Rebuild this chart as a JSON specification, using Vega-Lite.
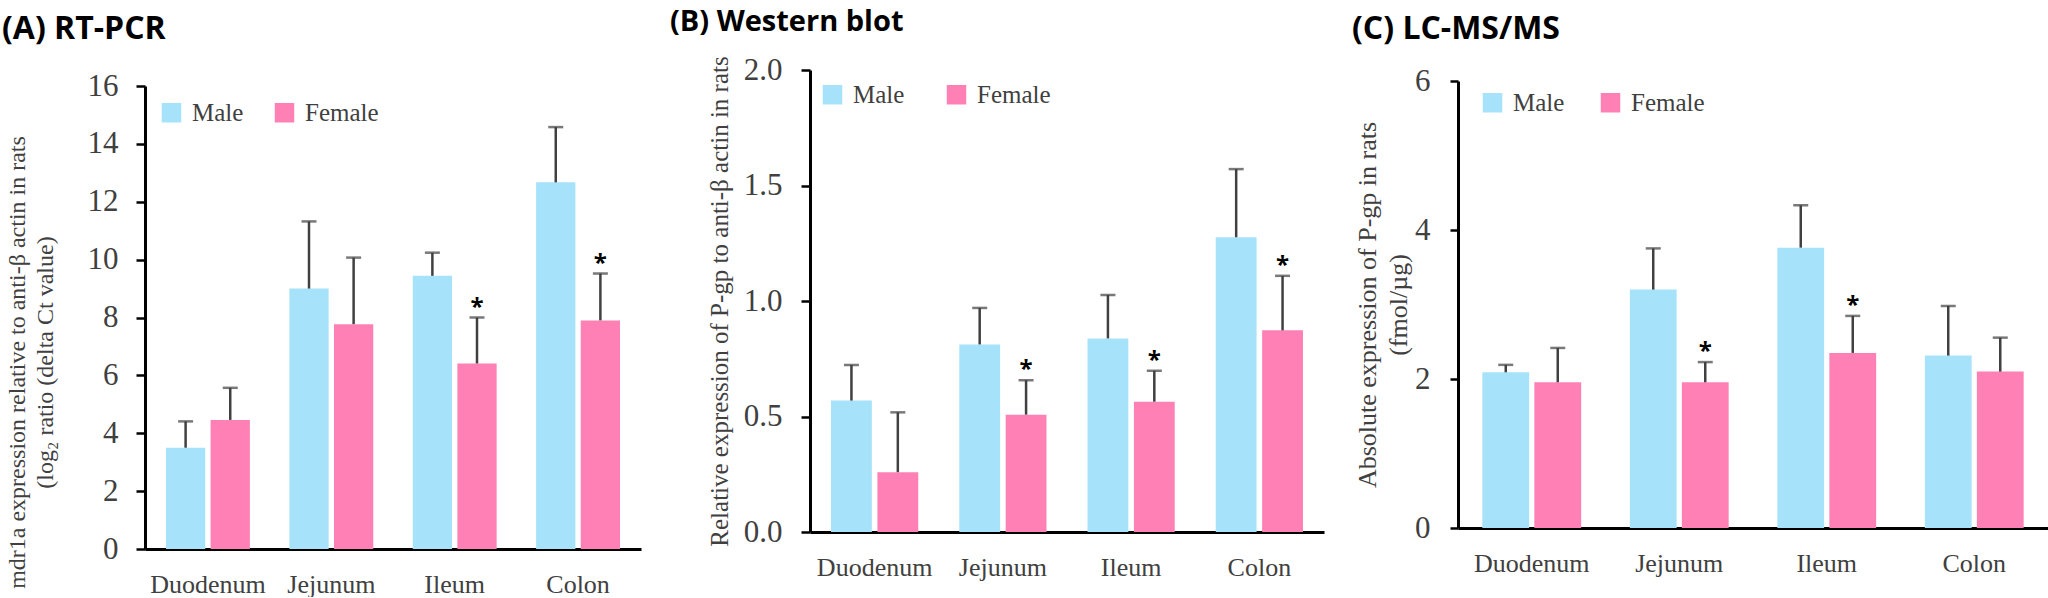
{
  "$schema": "https://vega.github.io/schema/vega-lite/v6.json",
  "background": "white",
  "padding": {"left": 2, "top": 8, "right": 0, "bottom": 0},
  "config": {"view": {"stroke": null}, "axis": {"grid": false}},
  "datasets": {
    "rtpcr": [
      {"organ": "Duodenum", "sex": "Male", "value": 3.5, "upper": 4.41, "sig": false},
      {"organ": "Duodenum", "sex": "Female", "value": 4.46, "upper": 5.57, "sig": false},
      {"organ": "Jejunum", "sex": "Male", "value": 9.0, "upper": 11.32, "sig": false},
      {"organ": "Jejunum", "sex": "Female", "value": 7.77, "upper": 10.07, "sig": false},
      {"organ": "Ileum", "sex": "Male", "value": 9.44, "upper": 10.24, "sig": false},
      {"organ": "Ileum", "sex": "Female", "value": 6.41, "upper": 8.0, "sig": true},
      {"organ": "Colon", "sex": "Male", "value": 12.67, "upper": 14.58, "sig": false},
      {"organ": "Colon", "sex": "Female", "value": 7.9, "upper": 9.52, "sig": true}
    ],
    "wb": [
      {"organ": "Duodenum", "sex": "Male", "value": 0.569, "upper": 0.723, "sig": false},
      {"organ": "Duodenum", "sex": "Female", "value": 0.259, "upper": 0.518, "sig": false},
      {"organ": "Jejunum", "sex": "Male", "value": 0.812, "upper": 0.97, "sig": false},
      {"organ": "Jejunum", "sex": "Female", "value": 0.508, "upper": 0.657, "sig": true},
      {"organ": "Ileum", "sex": "Male", "value": 0.838, "upper": 1.026, "sig": false},
      {"organ": "Ileum", "sex": "Female", "value": 0.564, "upper": 0.698, "sig": true},
      {"organ": "Colon", "sex": "Male", "value": 1.276, "upper": 1.571, "sig": false},
      {"organ": "Colon", "sex": "Female", "value": 0.873, "upper": 1.109, "sig": true}
    ],
    "lcms": [
      {"organ": "Duodenum", "sex": "Male", "value": 2.09, "upper": 2.19, "sig": false},
      {"organ": "Duodenum", "sex": "Female", "value": 1.956, "upper": 2.417, "sig": false},
      {"organ": "Jejunum", "sex": "Male", "value": 3.2, "upper": 3.753, "sig": false},
      {"organ": "Jejunum", "sex": "Female", "value": 1.956, "upper": 2.227, "sig": true},
      {"organ": "Ileum", "sex": "Male", "value": 3.763, "upper": 4.332, "sig": false},
      {"organ": "Ileum", "sex": "Female", "value": 2.35, "upper": 2.847, "sig": true},
      {"organ": "Colon", "sex": "Male", "value": 2.314, "upper": 2.98, "sig": false},
      {"organ": "Colon", "sex": "Female", "value": 2.099, "upper": 2.555, "sig": false}
    ]
  },
  "spacing": 169,
  "bounds": "flush",
  "resolve": {"scale": {"color": "independent", "x": "independent", "y": "independent", "xOffset": "independent"}, "legend": {"color": "independent"}},
  "hconcat": [
    {
      "data": {"name": "rtpcr"},
      "width": 496,
      "height": 479,
      "title": {"text": "(A) RT-PCR", "anchor": "start", "frame": "group", "dx": -143, "offset": -1, "baseline": "alphabetic", "font": "Open Sans", "fontSize": 32, "fontWeight": "bold", "color": "#000000"},
      "encoding": {
        "x": {"field": "organ", "type": "nominal", "sort": ["Duodenum", "Jejunum", "Ileum", "Colon"], "scale": {"paddingInner": 0.32, "paddingOuter": 0.17},
          "axis": {"title": null, "labelAngle": 0, "ticks": false, "tickSize": 0, "domainColor": "#000000", "domainWidth": 3, "labelFont": "Liberation Serif", "labelFontSize": 26, "labelColor": "#404040", "labelPadding": 22}},
        "xOffset": {"field": "sex", "type": "nominal", "sort": ["Male", "Female"], "scale": {"paddingInner": 0.12}}
      },
      "layer": [
        {"mark": {"type": "bar"},
          "encoding": {
            "y": {"field": "value", "type": "quantitative", "scale": {"domain": [0, 16], "range": [479, 16], "nice": false, "zero": true},
              "axis": {"title": ["mdr1a expression relative to anti-β actin in rats", "(log₂ ratio (delta Ct value)"], "values": [0, 2, 4, 6, 8, 10, 12, 14, 16], "format": "d", "domainColor": "#000000", "domainWidth": 3, "tickColor": "#000000", "tickWidth": 2.5, "tickSize": 9, "labelPadding": 18, "labelFont": "Liberation Serif", "labelFontSize": 31, "labelColor": "#404040", "titleFont": "Liberation Serif", "titleFontSize": 24, "titleFontWeight": "normal", "titleColor": "#404040", "titlePadding": 30, "titleLineHeight": 28, "titleY": 292}},
            "color": {"field": "sex", "type": "nominal", "scale": {"domain": ["Male", "Female"], "range": ["#A6E3FA", "#FF80B4"]},
              "legend": {"title": null, "orient": "none", "legendX": 14, "legendY": 30, "direction": "horizontal", "symbolType": "square", "symbolSize": 380, "symbolStrokeWidth": 0, "labelFont": "Liberation Serif", "labelFontSize": 25, "labelColor": "#404040", "labelOffset": 8, "columnPadding": 28, "padding": 0}}
          }},
        {"mark": {"type": "rule", "color": "#404040", "strokeWidth": 2.5},
          "encoding": {"y": {"field": "value", "type": "quantitative"}, "y2": {"field": "upper"}}},
        {"mark": {"type": "tick", "color": "#404040", "thickness": 2.5, "size": 15},
          "encoding": {"y": {"field": "upper", "type": "quantitative"}}},
        {"transform": [{"filter": "datum.sig"}],
          "mark": {"type": "text", "font": "Open Sans", "fontWeight": "bold", "fontSize": 24, "color": "#000000", "baseline": "alphabetic", "dy": -3},
          "encoding": {"y": {"field": "upper", "type": "quantitative"}, "text": {"value": "*"}}}
      ]
    },
    {
      "spacing": 134,
      "bounds": "flush",
      "resolve": {"scale": {"color": "independent", "x": "independent", "y": "independent", "xOffset": "independent"}, "legend": {"color": "independent"}},
      "hconcat": [
        {
          "data": {"name": "wb"},
          "width": 514,
          "height": 462,
          "title": {"text": "(B) Western blot", "anchor": "start", "frame": "group", "dx": -140, "offset": -6, "baseline": "alphabetic", "font": "Open Sans", "fontSize": 29, "fontWeight": "bold", "color": "#000000"},
          "encoding": {
            "x": {"field": "organ", "type": "nominal", "sort": ["Duodenum", "Jejunum", "Ileum", "Colon"], "scale": {"paddingInner": 0.32, "paddingOuter": 0.164},
              "axis": {"title": null, "labelAngle": 0, "ticks": false, "tickSize": 0, "domainColor": "#000000", "domainWidth": 3, "labelFont": "Liberation Serif", "labelFontSize": 26, "labelColor": "#404040", "labelPadding": 22}},
            "xOffset": {"field": "sex", "type": "nominal", "sort": ["Male", "Female"], "scale": {"paddingInner": 0.12}}
          },
          "layer": [
            {"mark": {"type": "bar"},
              "encoding": {
                "y": {"field": "value", "type": "quantitative", "scale": {"domain": [0, 2], "range": [462, 0], "nice": false},
                  "axis": {"title": "Relative expression of P-gp to anti-β actin in rats", "values": [0, 0.5, 1, 1.5, 2], "format": ".1f", "domainColor": "#000000", "domainWidth": 3, "tickColor": "#000000", "tickWidth": 2.5, "tickSize": 9, "labelPadding": 19, "labelFont": "Liberation Serif", "labelFontSize": 31, "labelColor": "#404040", "titleFont": "Liberation Serif", "titleFontSize": 25, "titleFontWeight": "normal", "titleColor": "#404040", "titlePadding": 11}},
                "color": {"field": "sex", "type": "nominal", "scale": {"domain": ["Male", "Female"], "range": ["#A6E3FA", "#FF80B4"]},
                  "legend": {"title": null, "orient": "none", "legendX": 10, "legendY": 12, "direction": "horizontal", "symbolType": "square", "symbolSize": 380, "symbolStrokeWidth": 0, "labelFont": "Liberation Serif", "labelFontSize": 25, "labelColor": "#404040", "labelOffset": 8, "columnPadding": 39, "padding": 0}}
              }},
            {"mark": {"type": "rule", "color": "#404040", "strokeWidth": 2.5},
              "encoding": {"y": {"field": "value", "type": "quantitative"}, "y2": {"field": "upper"}}},
            {"mark": {"type": "tick", "color": "#404040", "thickness": 2.5, "size": 15},
              "encoding": {"y": {"field": "upper", "type": "quantitative"}}},
            {"transform": [{"filter": "datum.sig"}],
              "mark": {"type": "text", "font": "Open Sans", "fontWeight": "bold", "fontSize": 24, "color": "#000000", "baseline": "alphabetic", "dy": -3},
              "encoding": {"y": {"field": "upper", "type": "quantitative"}, "text": {"value": "*"}}}
          ]
        },
        {
          "data": {"name": "lcms"},
          "width": 590,
          "height": 458,
          "title": {"text": "(C) LC-MS/MS", "anchor": "start", "frame": "group", "dx": -106, "offset": -5.5, "baseline": "alphabetic", "font": "Open Sans", "fontSize": 32, "fontWeight": "bold", "color": "#000000"},
          "encoding": {
            "x": {"field": "organ", "type": "nominal", "sort": ["Duodenum", "Jejunum", "Ileum", "Colon"], "scale": {"paddingInner": 0.33, "paddingOuter": 0.165},
              "axis": {"title": null, "labelAngle": 0, "ticks": false, "tickSize": 0, "domainColor": "#000000", "domainWidth": 3, "labelFont": "Liberation Serif", "labelFontSize": 26, "labelColor": "#404040", "labelPadding": 22}},
            "xOffset": {"field": "sex", "type": "nominal", "sort": ["Male", "Female"], "scale": {"paddingInner": 0.1}}
          },
          "layer": [
            {"mark": {"type": "bar"},
              "encoding": {
                "y": {"field": "value", "type": "quantitative", "scale": {"domain": [0, 6], "range": [458, 11], "nice": false},
                  "axis": {"title": ["Absolute expression of P-gp in rats", "(fmol/µg)"], "values": [0, 2, 4, 6], "format": "d", "domainColor": "#000000", "domainWidth": 3, "tickColor": "#000000", "tickWidth": 2.5, "tickSize": 8, "labelPadding": 20, "labelFont": "Liberation Serif", "labelFontSize": 31, "labelColor": "#404040", "titleFont": "Liberation Serif", "titleFontSize": 26, "titleFontWeight": "normal", "titleColor": "#404040", "titlePadding": 3, "titleLineHeight": 31}},
                "color": {"field": "sex", "type": "nominal", "scale": {"domain": ["Male", "Female"], "range": ["#A6E3FA", "#FF80B4"]},
                  "legend": {"title": null, "orient": "none", "legendX": 22, "legendY": 20, "direction": "horizontal", "symbolType": "square", "symbolSize": 380, "symbolStrokeWidth": 0, "labelFont": "Liberation Serif", "labelFontSize": 25, "labelColor": "#404040", "labelOffset": 8, "columnPadding": 33, "padding": 0}}
              }},
            {"mark": {"type": "rule", "color": "#404040", "strokeWidth": 2.5},
              "encoding": {"y": {"field": "value", "type": "quantitative"}, "y2": {"field": "upper"}}},
            {"mark": {"type": "tick", "color": "#404040", "thickness": 2.5, "size": 15},
              "encoding": {"y": {"field": "upper", "type": "quantitative"}}},
            {"transform": [{"filter": "datum.sig"}],
              "mark": {"type": "text", "font": "Open Sans", "fontWeight": "bold", "fontSize": 24, "color": "#000000", "baseline": "alphabetic", "dy": -3},
              "encoding": {"y": {"field": "upper", "type": "quantitative"}, "text": {"value": "*"}}}
          ]
        }
      ]
    }
  ]
}
